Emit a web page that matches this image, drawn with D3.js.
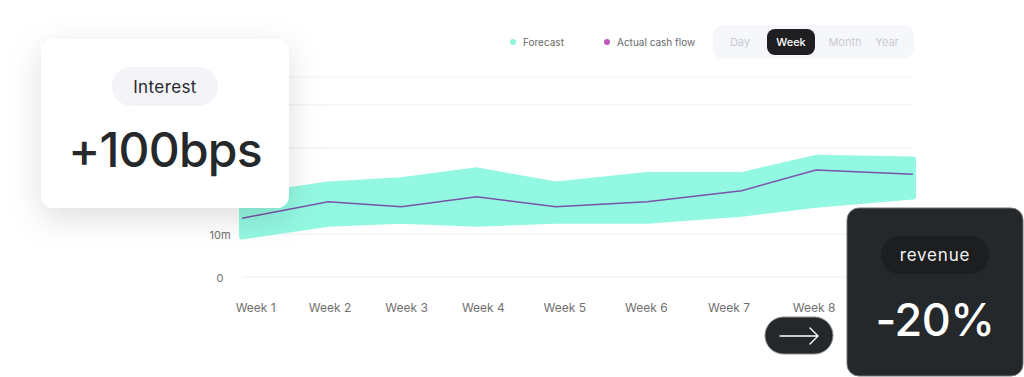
<!DOCTYPE html>
<html>
<head>
<meta charset="utf-8">
<script src="https://cdn.jsdelivr.net/npm/d3@7"></script>
<style>
  html, body { margin: 0; padding: 0; background: #ffffff; }
  svg { display: block; font-family: Inter, "Noto Sans", sans-serif; }
</style>
</head>
<body>
<div id="chart"></div>
<script>
// Chart data (values in millions, x as days from first point)
const weekLabels = ["Week 1", "Week 2", "Week 3", "Week 4", "Week 5", "Week 6", "Week 7", "Week 8"];
const labelDay = [1.1, 7.3, 13.7, 20.1, 26.9, 33.7, 40.6, 47.7];
const pointDay = [0, 7.2, 13.3, 19.6, 26.2, 33.8, 41.7, 47.9, 56];
const actualCashFlow = [13.65, 17.5, 16.35, 18.65, 16.35, 17.5, 20.05, 24.9, 23.9];
const forecastHigh = [18.6, 21.5, 22.5, 24.8, 21.5, 23.7, 23.7, 27.7, 27.3];
const forecastLow = [9.4, 12.4, 13.1, 12.4, 13.1, 13.1, 14.7, 16.8, 18.7];
const gridTicks = [0, 10, 20, 30, 40];
// only the labels not covered by the interest card
const yLabelTicks = [0, 10];
const yTickLabels = ["0", "10m"];
const yTop = 46.5;
const legendItems = ["Forecast", "Actual cash flow"];
const periods = ["Day", "Week", "Month", "Year"];
const activePeriod = "Week";

const width = 1024, height = 377;
const plot = {left: 242, right: 913, top: 77, bottom: 277};

const colors = {
  band: "#93f8e1",
  line: "#7a52aa",
  forecastDot: "#8ef5dd",
  actualDot: "#c255be",
  grid: "#ededf3",
  axisText: "#707070",
  dark: "#25282b"
};

const svg = d3.select("#chart").append("svg")
  .attr("width", width)
  .attr("height", height);

// Shadow for the floating cards
const defs = svg.append("defs");
defs.append("filter")
  .attr("id", "cardShadow")
  .attr("x", "-40%").attr("y", "-40%")
  .attr("width", "180%").attr("height", "190%")
  .append("feDropShadow")
  .attr("dx", 0).attr("dy", 10)
  .attr("stdDeviation", 16)
  .attr("flood-color", "#000")
  .attr("flood-opacity", 0.13);

// Scales
const x = d3.scaleLinear()
  .domain([pointDay[0], pointDay[pointDay.length - 1]])
  .range([plot.left, plot.right]);

const y = d3.scaleLinear()
  .domain([0, yTop])
  .range([plot.bottom, plot.top]);

// Grid lines
const grid = svg.append("g").attr("class", "grid");
grid.selectAll("line")
  .data(gridTicks.concat([yTop]))
  .join("line")
  .attr("x1", plot.left)
  .attr("x2", plot.right)
  .attr("y1", d => y(d))
  .attr("y2", d => y(d))
  .attr("stroke", d => d === yTop ? "#f4f4f7" : colors.grid)
  .attr("stroke-width", 1);

// Y tick labels
const yAxis = svg.append("g")
  .attr("transform", `translate(220,1)`)
  .call(d3.axisLeft(y).tickValues(yLabelTicks).tickSize(0).tickPadding(0)
    .tickFormat((d, i) => yTickLabels[i]));
yAxis.select(".domain").remove();
yAxis.selectAll("text")
  .attr("text-anchor", "middle")
  .attr("fill", colors.axisText)
  .style("font-size", "11px")
  .style("font-family", "Inter, sans-serif");

// X axis (week labels)
const xAxis = svg.append("g")
  .attr("transform", `translate(0,${plot.bottom + 26})`)
  .call(d3.axisBottom(x).tickValues(labelDay).tickSize(0).tickPadding(0)
    .tickFormat((d, i) => weekLabels[i]));
xAxis.select(".domain").remove();
xAxis.selectAll("text")
  .attr("fill", colors.axisText)
  .style("font-size", "12px")
  .style("font-family", "Inter, sans-serif");

// Forecast band
const series = pointDay.map((d, i) => ({
  day: d, high: forecastHigh[i], low: forecastLow[i], actual: actualCashFlow[i]
}));

const area = d3.area()
  .x(d => x(d.day))
  .y0(d => y(d.low))
  .y1(d => y(d.high));

svg.append("path")
  .datum(series)
  .attr("fill", colors.band)
  .attr("stroke", colors.band)
  .attr("stroke-width", 6)
  .attr("stroke-linejoin", "round")
  .attr("d", area);

// Actual cash flow line
const line = d3.line()
  .x(d => x(d.day))
  .y(d => y(d.actual));

svg.append("path")
  .datum(series)
  .attr("fill", "none")
  .attr("stroke", colors.line)
  .attr("stroke-width", 1.5)
  .attr("d", line);

// Legend
const legend = svg.append("g").attr("class", "legend");
const legendX = [513, 607];
const legendColors = [colors.forecastDot, colors.actualDot];
legendItems.forEach((name, i) => {
  legend.append("circle")
    .attr("cx", legendX[i])
    .attr("cy", 42)
    .attr("r", 3)
    .attr("fill", legendColors[i]);
  legend.append("text")
    .attr("x", legendX[i] + 10)
    .attr("y", 42)
    .attr("dominant-baseline", "central")
    .attr("fill", "#6a6a6a")
    .style("font-size", "10px")
    .text(name);
});

// Period toggle
const toggle = svg.append("g").attr("class", "toggle");
toggle.append("rect")
  .attr("x", 713).attr("y", 25)
  .attr("width", 201).attr("height", 34)
  .attr("rx", 10)
  .attr("fill", "#f6f7fb");

const periodCenters = d3.scaleOrdinal().domain(periods).range([740, 791, 845, 887]);
periods.forEach(p => {
  const cx = periodCenters(p);
  if (p === activePeriod) {
    toggle.append("rect")
      .attr("x", cx - 24).attr("y", 29)
      .attr("width", 48).attr("height", 26)
      .attr("rx", 8)
      .attr("fill", "#1f1f22");
  }
  toggle.append("text")
    .attr("x", cx)
    .attr("y", 42)
    .attr("text-anchor", "middle")
    .attr("dominant-baseline", "central")
    .attr("fill", p === activePeriod ? "#ffffff" : "#c9ccd2")
    .style("font-size", "11px")
    .style("font-weight", p === activePeriod ? 500 : 400)
    .text(p);
});

// Interest card
const interest = svg.append("g").attr("class", "interest-card");
interest.append("rect")
  .attr("x", 41).attr("y", 39)
  .attr("width", 248).attr("height", 169)
  .attr("rx", 12)
  .attr("fill", "#ffffff")
  .attr("filter", "url(#cardShadow)");
interest.append("rect")
  .attr("x", 112).attr("y", 67)
  .attr("width", 106).attr("height", 39)
  .attr("rx", 19.5)
  .attr("fill", "#f4f3f8");
interest.append("text")
  .attr("x", 165).attr("y", 87)
  .attr("text-anchor", "middle")
  .attr("dominant-baseline", "central")
  .attr("fill", "#26282b")
  .style("font-size", "17px")
  .style("letter-spacing", "0.4px")
  .text("Interest");
interest.append("text")
  .attr("x", 165).attr("y", 167)
  .attr("text-anchor", "middle")
  .attr("fill", "#26292c")
  .style("font-size", "48px")
  .style("font-weight", 500)
  .style("letter-spacing", "-0.8px")
  .text("+100bps");

// Arrow button
const button = svg.append("g").attr("class", "arrow-button");
button.append("rect")
  .attr("x", 765).attr("y", 317)
  .attr("width", 68).attr("height", 37)
  .attr("rx", 18.5)
  .attr("fill", colors.dark)
  .attr("stroke", "#8a8d90")
  .attr("stroke-width", 1);
button.append("path")
  .attr("d", "M780,336 H818 M810,328 L818,336 L810,344")
  .attr("fill", "none")
  .attr("stroke", "#ffffff")
  .attr("stroke-width", 1.4)
  .attr("stroke-linecap", "round")
  .attr("stroke-linejoin", "round");

// Revenue card
const revenue = svg.append("g").attr("class", "revenue-card");
revenue.append("rect")
  .attr("x", 847).attr("y", 208)
  .attr("width", 176).attr("height", 168)
  .attr("rx", 12)
  .attr("fill", colors.dark)
  .attr("stroke", "#6f7275")
  .attr("stroke-width", 1);
revenue.append("rect")
  .attr("x", 881).attr("y", 236)
  .attr("width", 108).attr("height", 38)
  .attr("rx", 19)
  .attr("fill", "#1c1e20");
revenue.append("text")
  .attr("x", 935).attr("y", 255)
  .attr("text-anchor", "middle")
  .attr("dominant-baseline", "central")
  .attr("fill", "#f2f2f2")
  .style("font-size", "17px")
  .style("letter-spacing", "0.8px")
  .text("revenue");
revenue.append("text")
  .attr("x", 935).attr("y", 336)
  .attr("text-anchor", "middle")
  .attr("fill", "#ffffff")
  .style("font-size", "45px")
  .style("font-weight", 500)
  .style("letter-spacing", "-0.5px")
  .text("-20%");
</script>
</body>
</html>
